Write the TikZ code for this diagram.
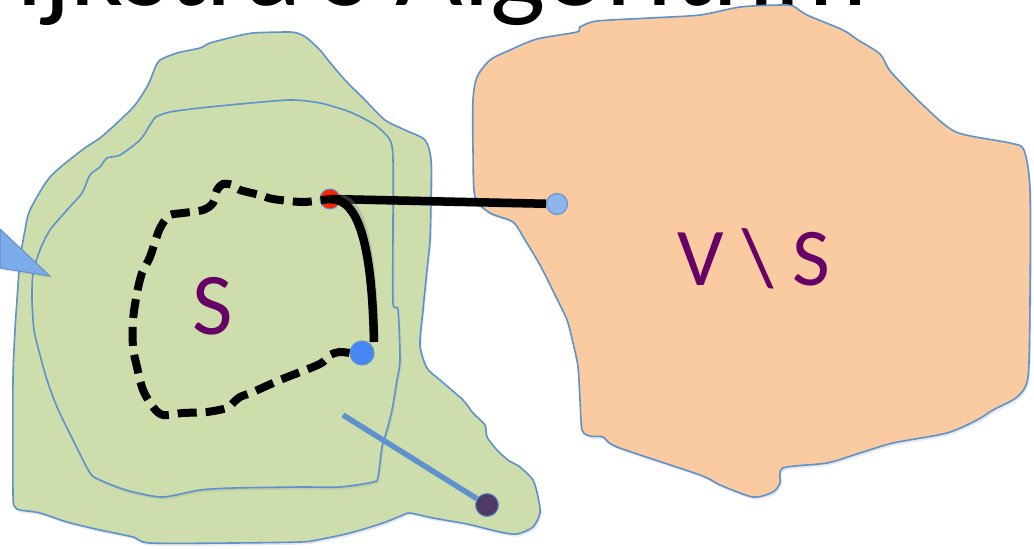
\documentclass[tikz,border=0pt]{standalone}
\usepackage{fontspec}
\setmainfont{Carlito}
\usetikzlibrary{shadows}

\definecolor{blobgreen}{RGB}{205,221,172}
\definecolor{bloborange}{RGB}{250,202,160}
\definecolor{edgeblue}{RGB}{95,145,205}
\definecolor{labelpurple}{RGB}{102,0,102}
\definecolor{redvertex}{RGB}{250,35,0}
\definecolor{bluevertex}{RGB}{70,135,245}
\definecolor{lightvertex}{RGB}{140,182,236}
\definecolor{darkvertex}{RGB}{78,58,98}
\definecolor{pointerblue}{RGB}{125,172,234}

\tikzset{
  blob/.style={draw=edgeblue, line width=1.6pt,
    drop shadow={opacity=0.18, shadow xshift=1.5pt, shadow yshift=-2.5pt}},
  vertex/.style={circle, draw=edgeblue, line width=1pt, inner sep=0pt, minimum size=#1},
  vertex/.default=19pt,
  pathline/.style={line width=8.5pt, black},
  dashline/.style={line width=8pt, black, dash pattern=on 19pt off 9pt},
  shade line/.style={black!45, opacity=0.35, line width=9pt, shift={(1.5,3)}},
}

\begin{document}
\begin{tikzpicture}[x=1pt,y=-1pt]
\useasboundingbox (0,0) rectangle (1034,549);

% Title, cut at the top
\node[anchor=base east, inner sep=0pt, font=\fontsize{117}{120}\selectfont] (title) at (868,5) {Dijkstra's Algorithm};

% V \ S region
\draw[blob, fill=bloborange] plot[smooth cycle, tension=0.45] coordinates {
  (490,60) (477,77) (473,100) (473,150) (475,197) (490,213) (513,222) (525,240)
  (540,265) (555,295) (567,320) (573,343) (578,367) (580,400) (582,430) (590,436)
  (603,437) (617,447) (700,475) (720,485) (753,497) (773,492) (780,483) (783,468)
  (827,463) (860,453) (893,443) (947,433) (977,420) (993,410) (1017,397) (1028,377)
  (1030,300) (1030,190) (1024,150) (1010,143) (956,132) (923,105) (891,72) (880,54)
  (858,40) (843,30) (807,15) (793,6) (780,5) (740,7) (700,15) (650,18) (597,21)
  (580,27) (577,32) (537,39) (510,50)};

% S region (outer and inner outline)
\draw[blob, fill=blobgreen] plot[smooth cycle, tension=0.45] coordinates {
  (160,60) (177,53) (200,48) (210,43) (233,37) (253,33) (287,32) (297,33) (307,38)
  (320,50) (328,60) (345,80) (365,100) (385,120) (405,130) (425,140) (431,160)
  (431,200) (430,240) (427,270) (423,310) (420,345) (427,368) (440,380) (463,400)
  (473,413) (485,425) (487,437) (497,450) (508,460) (520,467) (533,480) (538,497)
  (540,513) (533,527) (517,534) (500,532) (467,524) (433,518) (410,513) (403,515)
  (383,523) (350,533) (317,540) (300,542) (233,543) (150,543) (133,537) (100,530)
  (67,522) (40,513) (20,510) (15,507) (13,493) (13,380) (15,330) (17,300) (20,260)
  (25,230) (30,210) (50,177) (82,150) (100,138) (118,122) (135,105) (148,85) (155,68)};
\draw[blob, fill=blobgreen] plot[smooth cycle, tension=0.45] coordinates {
  (120,155) (140,140) (150,125) (156,117) (170,112) (200,108) (240,104) (290,100)
  (320,103) (350,112) (375,125) (390,140) (393,160) (393,230) (393,303) (398,310)
  (400,360) (397,380) (392,410) (387,430) (382,447) (378,477) (373,482) (340,487)
  (300,487) (233,488) (200,490) (163,497) (133,492) (117,487) (100,480) (90,473)
  (73,440) (57,407) (47,380) (40,355) (34,330) (32,300) (33,273) (40,250) (50,230)
  (67,210) (82,193) (90,175) (100,167) (107,158)};

% Pointer at the left edge
\draw[edgeblue, line width=1pt, fill=pointerblue,
  drop shadow={opacity=0.2, shadow xshift=1.5pt, shadow yshift=-2pt}]
  (0,229) -- (50,276) -- (0,268) -- cycle;

% Labels
\node[anchor=base, inner sep=0pt, text=labelpurple, font=\fontsize{88}{90}\selectfont] (lblS) at (213,334) {S};
\node[anchor=base, inner sep=0pt, text=labelpurple, font=\fontsize{82}{90}\selectfont] (lblVS) at (754,285) {V \textbackslash{} S};

% Vertices
\node[vertex=20pt, fill=redvertex] (u) at (330,199) {};
\node[vertex=24pt, fill=bluevertex] (v) at (362,353) {};
\node[vertex=21pt, fill=lightvertex] (w) at (557,204) {};
\node[vertex=23pt, fill=darkvertex] (x) at (487,505) {};
\coordinate (curveend) at (374,342);
\coordinate (stickstart) at (343,415);

% Path inside S
\draw[dashline, line cap=butt] plot[smooth, tension=0.5] coordinates {
  (v.west) (340,352) (330,355) (323,362) (313,367) (280,380) (253,392) (240,397)
  (233,403) (227,408) (207,412) (183,413) (163,415) (153,407) (143,390) (137,367)
  (133,347) (133,320) (137,293) (142,273) (150,257) (158,233) (163,223) (170,215)
  (183,213) (203,210) (213,203) (217,190) (223,184) (233,185) (240,190) (260,195)
  (273,199) (303,202) (u.center)};

% Edge that leaves S, and the edge back to v
\draw[shade line] (u.east) -- (w.west);
\draw[pathline] (u.center) -- (w);
\draw[shade line] (u.east) .. controls (360,198) and (372,250) .. (curveend);
\draw[pathline] (u.center) .. controls (360,198) and (372,250) .. (curveend);

% Stick to the dark vertex
\draw[edgeblue, line width=5.5pt] (stickstart) -- (x);
\end{tikzpicture}
\end{document}
